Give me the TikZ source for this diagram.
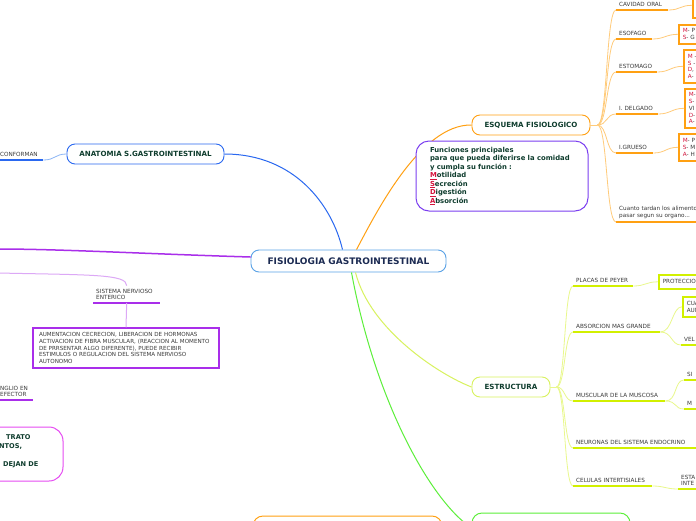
\documentclass[tikz,border=0pt]{standalone}
\usepackage{fontspec}
\setmainfont{DejaVu Sans}
\usetikzlibrary{positioning}
\definecolor{navy}{HTML}{1B2A52}
\definecolor{dgrn}{HTML}{0F3D2E}
\definecolor{lblc}{HTML}{3A3A3A}
\definecolor{mred}{HTML}{D4143C}
\definecolor{cblue}{HTML}{5AA2E6}
\definecolor{ablue}{HTML}{2A68F0}
\definecolor{lblue}{HTML}{8DB6F6}
\definecolor{orng}{HTML}{FFA012}
\definecolor{orngl}{HTML}{FFCB7A}
\definecolor{purp}{HTML}{7B3FF0}
\definecolor{vio}{HTML}{A92EEA}
\definecolor{viol}{HTML}{DCA8F6}
\definecolor{mag}{HTML}{E64CF2}
\definecolor{ylw}{HTML}{D2F000}
\definecolor{ylwl}{HTML}{E9F88C}
\definecolor{ylwt}{HTML}{D8F25E}
\definecolor{grn}{HTML}{5CEF3A}
\newcommand\lbl{\fontsize{5.7}{6.7}\selectfont}
\newcommand\redm[1]{\textcolor{mred}{#1}}
\newcommand\redl[1]{\textcolor{mred}{\underline{#1}}}

\begin{document}
\begin{tikzpicture}[x=1pt, y=-1pt,
    topic/.style={draw=#1, line width=0.9pt, rounded corners=8pt, fill=white, font=\fontsize{7.1}{8}\selectfont\bfseries, text=dgrn, minimum height=20pt, inner sep=0pt},
    leaf/.style 2 args={anchor=south west, inner xsep=3pt, inner ysep=3pt, font=\lbl, text=lblc, align=left, text width=#1, append after command={(\tikzlastnode.south west) edge[draw=#2, line width=1.7pt] (\tikzlastnode.south east)}},
    obox/.style={draw=orng, line width=1.6pt, anchor=north west, font=\lbl, text=lblc, align=left, text width=40pt, inner xsep=4pt, inner ysep=0pt},
    ybox/.style={obox, draw=ylw},
    obr/.style={draw=orngl, line width=0.8pt},
    ybr/.style={draw=ylwl, line width=0.8pt},
    note/.style={draw=#1, line width=1pt, rounded corners=13pt, fill=white, align=left, font=\fontsize{6.85}{8.5}\selectfont\bfseries, text=dgrn}]

\useasboundingbox (0,0) rectangle (696,520);
\fill[white] (0,0) rectangle (696,520);
\clip (0,0) rectangle (696,520);

\node[topic=cblue, minimum width=195pt, minimum height=22pt, font=\fontsize{9}{10}\selectfont\bfseries, text=navy] (fisio) at (348.5,261) {FISIOLOGIA GASTROINTESTINAL};
\node[topic=ablue, minimum width=157pt] (anat) at (145.5,154) {ANATOMIA S.GASTROINTESTINAL};
\node[topic=orng, minimum width=118pt] (esq) at (531,125) {ESQUEMA FISIOLOGICO};
\node[topic=ylwt, minimum width=78pt] (estr) at (511,387) {ESTRUCTURA};
\node[draw=orng, line width=1pt, rounded corners=10pt, minimum width=189pt, minimum height=30pt] (ramaO) at (347.5,531) {};
\node[draw=grn, line width=1pt, rounded corners=10pt, minimum width=158pt, minimum height=30pt] (ramaV) at (551,528) {};

\coordinate (pl) at (-2,249);
\coordinate (lp) at (-2,273);
\coordinate (ej) at ([xshift=7pt]esq.east);
\coordinate (sj) at ([xshift=6pt]estr.east);

\draw[draw=ablue, line width=1pt] (anat.east) .. controls +(70,0) and (332,205) .. ([xshift=-6pt]fisio.north);
\draw[draw=orng, line width=1pt] ([xshift=8pt]fisio.north) .. controls (375,215) and (420,124) .. (esq.west);
\draw[draw=ylwt, line width=1pt] ([xshift=7pt]fisio.south) .. controls (370,330) and (440,375) .. (estr.west);
\draw[draw=grn, line width=1pt] ([xshift=3pt]fisio.south) .. controls (375,400) and (430,500) .. (ramaV.west);
\draw[draw=vio, line width=1.5pt] ([yshift=4pt]fisio.west) .. controls (150,254) and (60,249) .. (pl);

\node[note=purp, minimum width=172pt, minimum height=70pt, text width=144pt] (func) at (502,176) {Funciones principales\\para que pueda diferirse la comidad\\y cumpla su función :\\\redl{M}otilidad\\\redl{S}ecreción\\\redl{D}igestión\\\redl{A}bsorción};

\node[leaf={40pt}{ablue}] (conf) at (-3,160) {CONFORMAN};
\draw[draw=lblue, line width=0.8pt] (conf.south east) .. controls +(12,0) and +(-12,0) .. (anat.west);

\node[leaf={61pt}{vio}] (sne) at (93,303) {SISTEMA NERVIOSO\\ENTERICO};
\node[draw=vio, line width=1.3pt, font=\fontsize{5.6}{6.8}\selectfont, text=lblc, align=left, text width=174pt, minimum width=186pt, minimum height=40pt, inner xsep=6pt] (snebox) at (126,348) {AUMENTACION CECRECION, LIBERACION DE HORMONAS\\ACTIVACION DE FIBRA MUSCULAR, (REACCION AL MOMENTO\\DE PRRSENTAR ALGO DIFERENTE), PUEDE RECIBIR\\ESTIMULOS O REGULACION DEL SISTEMA NERVIOSO\\AUTONOMO};
\draw[draw=viol, line width=1pt] (lp) .. controls (90,275) and (127,274) .. (sne.north);
\draw[draw=viol, line width=1pt] (sne.south) -- (snebox.north);

\node[leaf={30pt}{vio}] (gang) at (-3,400) {NGLIO EN\\EFECTOR};
\node[draw=mag, line width=1pt, rounded corners=14pt, minimum width=110pt, minimum height=54pt] (trato) at (8,454) {};
\node[anchor=north west, inner sep=0pt, align=left, text width=50pt, font=\fontsize{6.6}{9}\selectfont\bfseries, text=dgrn] (tratoT) at (-1,434) {\noindent\hspace*{7pt}TRATO\\NTOS,\\[9pt]\hspace*{4pt}DEJAN DE};

\node[leaf={46pt}{orng}] (cav) at (616,10) {CAVIDAD ORAL};
\node[leaf={30pt}{orng}] (eso) at (616,39) {ESOFAGO};
\node[leaf={35pt}{orng}] (esto) at (616,72) {ESTOMAGO};
\node[leaf={36pt}{orng}] (idel) at (616,114) {I. DELGADO};
\node[leaf={31pt}{orng}] (igru) at (616,153) {I.GRUESO};
\node[leaf={90pt}{orng}] (tarda) at (616,222) {Cuanto tardan los alimento\\pasar segun su organo...};
\node[obox, minimum height=37pt] (cavB) at (692,-20) {};
\node[obox, minimum height=19pt] (esoB) at (678,24) {\redm{M}- P\\\redm{S}- G};
\node[obox, minimum height=33pt] (estoB) at (683,49) {\redm{M} -\\\redm{S} -\\\redm{D},\\\redm{A}-};
\node[obox, minimum height=39pt] (idelB) at (684,88) {\redm{M}-\\\redm{S}-\\VI\\\redm{D}-\\\redm{A}-};
\node[obox, minimum height=27pt] (igruB) at (678,133) {\redm{M}- P\\\redm{S}- M\\\redm{A}- H};

\draw[obr] (esq.east) -- (ej);
\draw[obr] (ej) .. controls +(10,0) and +(-10,0) .. (cav.south west);
\draw[obr] (ej) .. controls +(10,0) and +(-10,0) .. (eso.south west);
\draw[obr] (ej) .. controls +(10,0) and +(-10,0) .. (esto.south west);
\draw[obr] (ej) .. controls +(10,0) and +(-10,0) .. (idel.south west);
\draw[obr] (ej) .. controls +(10,0) and +(-10,0) .. (igru.south west);
\draw[obr] (ej) .. controls +(10,0) and +(-10,0) .. (tarda.south west);
\draw[obr] (cav.south east) .. controls +(12,0) and +(-12,0) .. ([yshift=-6pt]cavB.west);
\draw[obr] (eso.south east) .. controls +(12,0) and +(-12,0) .. (esoB.west);
\draw[obr] (esto.south east) .. controls +(12,0) and +(-12,0) .. (estoB.west);
\draw[obr] (idel.south east) .. controls +(12,0) and +(-12,0) .. (idelB.west);
\draw[obr] (igru.south east) .. controls +(12,0) and +(-12,0) .. (igruB.west);

\node[leaf={54pt}{ylw}] (peyer) at (573,286) {PLACAS DE PEYER};
\node[leaf={81pt}{ylw}] (absor) at (573,332) {ABSORCION MAS GRANDE};
\node[leaf={86pt}{ylw}] (musc) at (573,401) {MUSCULAR DE LA MUSCOSA};
\node[leaf={130pt}{ylw}] (neuro) at (573,448) {NEURONAS DEL SISTEMA ENDOCRINO};
\node[leaf={73pt}{ylw}] (celu) at (573,486) {CELULAS INTERTISIALES};
\node[ybox, minimum height=14pt] (prot) at (658,274) {PROTECCIO};
\node[ybox, minimum height=20pt] (cua) at (682,296) {CUA\\AUN};
\node[leaf={30pt}{ylw}] (vel) at (681,345) {VEL};
\node[leaf={30pt}{ylw}] (si) at (684,380) {SI};
\node[leaf={30pt}{ylw}] (mm) at (684,409) {M};
\node[leaf={30pt}{ylw}] (esta) at (678,489) {ESTA\\INTE};

\draw[ybr] (estr.east) -- (sj);
\draw[ybr] (sj) .. controls +(9,0) and +(-9,0) .. (peyer.south west);
\draw[ybr] (sj) .. controls +(9,0) and +(-9,0) .. (absor.south west);
\draw[ybr] (sj) .. controls +(9,0) and +(-9,0) .. (musc.south west);
\draw[ybr] (sj) .. controls +(9,0) and +(-9,0) .. (neuro.south west);
\draw[ybr] (sj) .. controls +(9,0) and +(-9,0) .. (celu.south west);
\draw[ybr] (peyer.south east) .. controls +(12,0) and +(-12,0) .. (prot.west);
\draw[ybr] (absor.south east) .. controls +(12,0) and +(-10,0) .. (cua.west);
\draw[ybr] (absor.south east) .. controls +(12,0) and +(-10,0) .. (vel.south west);
\draw[ybr] (musc.south east) .. controls +(12,0) and +(-10,0) .. (si.south west);
\draw[ybr] (musc.south east) .. controls +(12,0) and +(-10,0) .. (mm.south west);
\draw[ybr] (celu.south east) .. controls +(12,0) and +(-12,0) .. (esta.south west);

\end{tikzpicture}
\end{document}
